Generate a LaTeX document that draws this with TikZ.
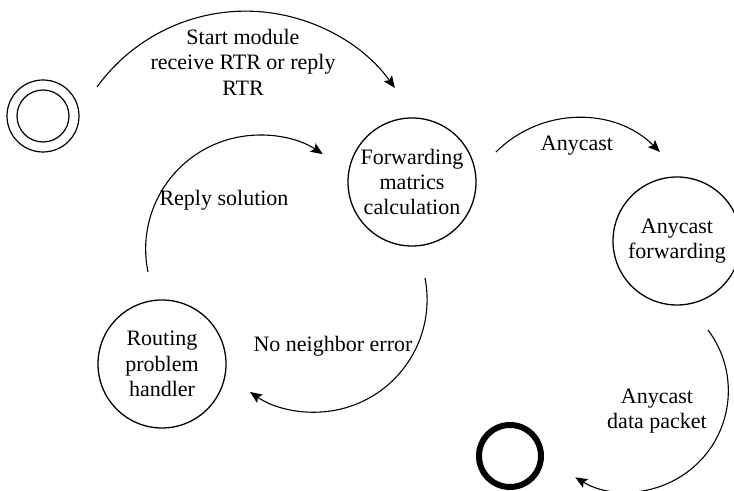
\documentclass[tikz,border=0pt]{standalone}
\usepackage{fontspec}
\setmainfont{Liberation Serif}
\usetikzlibrary{arrows.meta}
\begin{document}
\begin{tikzpicture}[x=0.5pt,y=-0.5pt,
  every node/.style={font=\fontsize{11}{12.7}\selectfont, align=center},
  state/.style={circle, draw, line width=0.65pt, minimum size=64pt, inner sep=0pt},
  conn/.style={line width=0.55pt, -{Stealth[length=6pt,width=5pt,inset=1.2pt]}},
  lbl/.style={inner sep=0pt}]
\useasboundingbox (0,0) rectangle (734,491);
% states
\node[circle, draw, line width=0.6pt, minimum size=36pt, inner sep=0pt] (start) at (43,116) {};
\node[circle, draw, line width=0.6pt, minimum size=26pt, inner sep=0pt] (startin) at (start.center) {};
\node[state] (fwd) at (412,182) {Forwarding\\matrics\\calculation};
\node[state] (any) at (677,241) {Anycast\\forwarding};
\node[state] (rph) at (162,364) {Routing\\problem\\handler};
\node[circle, draw, line width=3pt, minimum size=31pt, inner sep=0pt] (end) at (510,456) {};
% connector end points
\coordinate (c1) at (97,87);
\coordinate (c2) at (148,272);
\coordinate (c3) at (496,152);
\coordinate (c4) at (425,278);
\coordinate (c5) at (708,330);
% connectors
\draw[conn] (c1) arc[start angle=215.9, end angle=324.5, radius=183.4];
\draw[conn] (c2) arc[start angle=168.4, end angle=303.6, radius=114];
\draw[conn] (c3) arc[start angle=225, end angle=315, radius=115.9];
\draw[conn] (c4) arc[start angle=-11.05, end angle=124.9, radius=112.6];
\draw[conn] (c5) arc[start angle=-37, end angle=121, radius=101];
% labels
\node[lbl] (l1) at (243,62) {Start module\\receive RTR or reply\\RTR};
\node[lbl] (l2) at (224,200) {Reply solution};
\node[lbl] (l3) at (577,146) {Anycast};
\node[lbl] (l4) at (333,346) {No neighbor error};
\node[lbl] (l5) at (657,411) {Anycast\\data packet};
\end{tikzpicture}
\end{document}
